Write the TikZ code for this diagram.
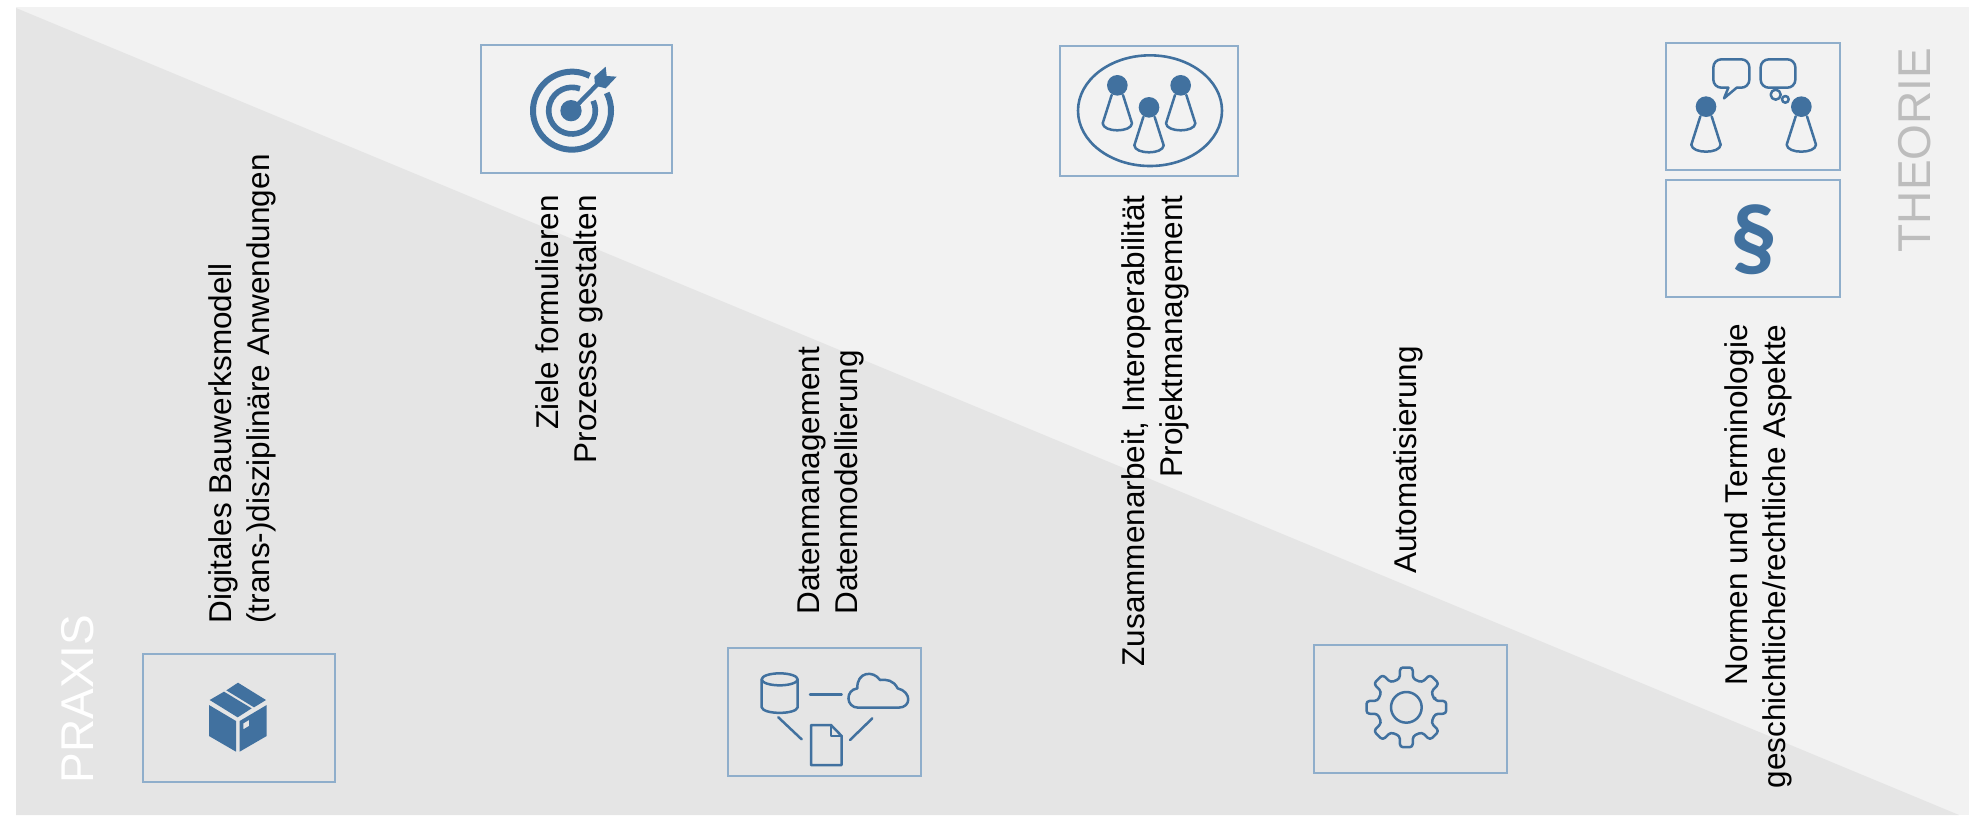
\documentclass[tikz,border=0pt]{standalone}
\usepackage{fontspec}
\setmainfont{Liberation Sans}
\newfontfamily\parafont{Carlito}
\definecolor{bglight}{HTML}{F2F2F2}
\definecolor{bgdark}{HTML}{E5E5E5}
\definecolor{iconblue}{HTML}{41719F}
\definecolor{boxblue}{HTML}{8FAECB}
\definecolor{theoriegrey}{HTML}{BDBDBD}
\tikzset{
  boxnode/.style={draw=boxblue,line width=0.6pt,inner sep=0pt,minimum width=#1},
  textlabel/.style={rotate=90,font=\fontsize{15.75pt}{19pt}\selectfont,text=black,inner sep=0pt},
  bigword/.style={rotate=90,font=\fontsize{23pt}{26pt}\selectfont,inner sep=0pt},
  icon/.style={draw=iconblue,line width=1.25pt,line join=round,line cap=round},
  iconfill/.style={fill=iconblue,draw=none},
  crop/.style={shift={(#1)},scale=1/3}
}
\newcommand{\pawnicon}[2]{%
  \begin{scope}[shift={(#1,#2)}]
    \fill[iconfill] (0,0) circle (31);
    \draw[icon] (-17,29) -- (-44,114) .. controls (-42,142) and (42,142) .. (44,114) -- (17,29);
  \end{scope}}
\begin{document}
\begin{tikzpicture}[x=0.5pt,y=-0.5pt]
\useasboundingbox (0,0) rectangle (1969,815);
\fill[white] (0,0) rectangle (1969,815);
\fill[bglight] (16,7) rectangle (1969,815);
\fill[bgdark] (16,8) -- (1959,815) -- (16,815) -- cycle;

% boxes
\node[boxnode=96pt,minimum height=64pt] (b1) at (239,718) {};
\node[boxnode=95.5pt,minimum height=64pt] (b2) at (576.5,109) {};
\node[boxnode=89pt,minimum height=65pt] (b3) at (1149,111) {};
\node[boxnode=87pt,minimum height=63.5pt] (b4) at (1753,106.5) {};
\node[boxnode=87pt,minimum height=58.5pt] (b5) at (1753,238.5) {};
\node[boxnode=96.5pt,minimum height=64pt] (b6) at (824.5,712) {};
\node[boxnode=96.5pt,minimum height=64pt] (b7) at (1410.5,709) {};

% cube
\begin{scope}[crop={100,620}]
  \fill[iconfill] (327,255) -- (408,303) -- (408,395) -- (327,348) -- cycle;
  \fill[iconfill,even odd rule] (419,303) -- (500,255) -- (500,348) -- (419,395) -- cycle
     (430,310) -- (447,300) -- (447,318) -- (430,328) -- cycle;
  \fill[iconfill] (329,240) -- (372,215) -- (455,265) -- (413,292) -- cycle;
  \fill[iconfill] (379,211) -- (414,188) -- (498,240) -- (462,262) -- cycle;
\end{scope}

% target
\begin{scope}[crop={460,20}]
  \draw[iconblue,line width=3pt] (336,272) ++(-63:117) arc[start angle=-63,delta angle=-324,radius=117];
  \draw[iconblue,line width=2.8pt] (336,272) ++(-70:70) arc[start angle=-70,delta angle=-315,radius=70];
  \fill[iconfill] (333,272) circle (32);
  \draw[iconblue,line width=2.2pt] (335,272) -- (420,185);
  \fill[iconfill] (403,170) -- (437,140) -- (440,168) -- (470,170) -- (437,205) -- (405,197) -- cycle;
\end{scope}

% three people
\begin{scope}[crop={1040,30}]
  \draw[icon,line width=1.3pt] (330,242) ellipse [x radius=216,y radius=166];
  \pawnicon{232}{166}
  \pawnicon{327}{232}
  \pawnicon{422}{166}
\end{scope}

% dialogue
\begin{scope}[crop={1650,20}]
  \pawnicon{168}{260}
  \pawnicon{454}{260}
  \draw[icon,rounded corners=4pt] (235,203) -- (190,203) -- (190,118) -- (298,118) -- (298,203) -- (260,203);
  \draw[icon] (235,203) -- (222,235) -- (260,203);
  \draw[icon,rounded corners=4pt] (332,118) rectangle (436,203);
  \draw[icon] (377,224) circle (15);
  \draw[icon] (406,238) circle (10);
\end{scope}

% paragraph sign
\node[font=\parafont\fontsize{47pt}{50pt}\selectfont\bfseries,text=iconblue,inner sep=0pt] (para) at (1754,240) {§};

% data
\begin{scope}[crop={715,630}]
  \draw[icon] (194,148) ellipse [x radius=54,y radius=18];
  \draw[icon] (140,148) -- (140,232) .. controls (145,254) and (243,254) .. (248,232) -- (248,148);
  \draw[icon] (285,193) -- (380,193);
  \draw[icon] (190,262) -- (260,328);
  \draw[icon] (405,330) -- (472,265);
  \draw[icon] (288,285) -- (348,285) -- (380,318) -- (380,405) -- (288,405) -- cycle;
  \draw[icon] (348,285) -- (348,318) -- (380,318);
  \draw[icon] (430,233) -- (550,233) .. controls (590,233) and (590,185) .. (548,175)
    .. controls (535,150) and (515,148) .. (495,150)
    .. controls (475,120) and (425,125) .. (427,175)
    .. controls (390,180) and (392,233) .. (430,233) -- cycle;
\end{scope}

% gear
\begin{scope}[crop={1300,630}]
  \begin{scope}[shift={(319,232)}]
  \draw[icon,rounded corners=1.5pt] (-13:88)
    \foreach \a in {0,45,...,315}{ -- (\a-13:88) -- (\a-9:121) -- (\a+9:121) -- (\a+13:88)} -- cycle;
  \draw[icon] (0,0) circle (46);
  \end{scope}
\end{scope}

% labels
\node[textlabel,align=left,anchor=west] (t1) at (242.5,624) {Digitales Bauwerksmodell\\(trans-)disziplinäre Anwendungen};
\node[textlabel,align=right,anchor=east] (t2) at (569.5,195) {Ziele formulieren\\Prozesse gestalten};
\node[textlabel,align=left,anchor=west] (t3) at (831,615) {Datenmanagement\\Datenmodellierung};
\node[textlabel,align=right,anchor=east] (t4) at (1155,195) {Zusammenarbeit, Interoperabilität\\Projektmanagement};
\node[textlabel,anchor=west] (t5) at (1408,574) {Automatisierung};
\node[textlabel,align=right,anchor=east] (t6) at (1758,324) {Normen und Terminologie\\geschichtliche/rechtliche Aspekte};
\node[bigword,text=white] (praxis) at (78,699) {PRAXIS};
\node[bigword,text=theoriegrey] (theorie) at (1915,150) {THEORIE};
\end{tikzpicture}
\end{document}
